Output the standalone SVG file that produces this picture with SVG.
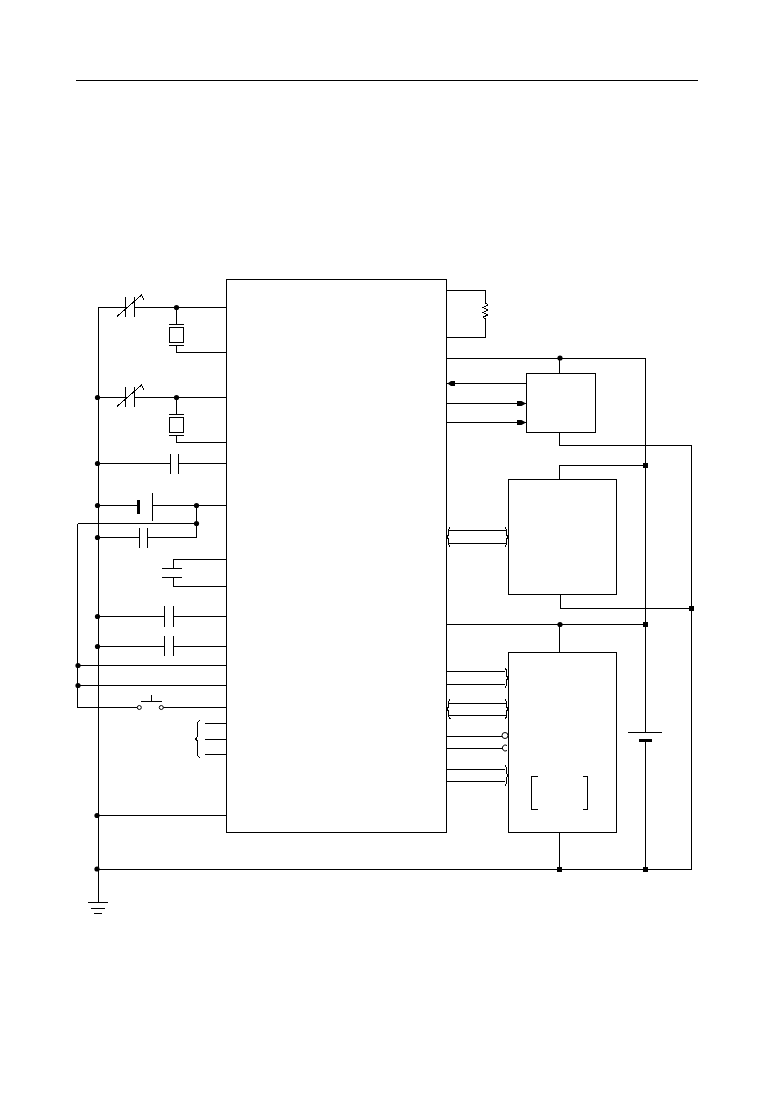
<svg xmlns="http://www.w3.org/2000/svg" width="774" height="1093" viewBox="0 0 774 1093">
<style>
.w{fill:none;stroke:#000;stroke-width:1;shape-rendering:crispEdges}
.t{fill:none;stroke:#000;stroke-width:1;shape-rendering:crispEdges}
.box{fill:#fff;stroke:#000;stroke-width:1;shape-rendering:crispEdges}
.k{fill:#000;stroke:none}
.o{fill:#fff;stroke:#000;stroke-width:1}
</style>
<defs>
<g id="dot"><circle r="2.600" class="k"/></g>
<g id="sq"><rect x="-2" y="-2" width="5" height="5" class="k"/></g>
<g id="var"><path class="w" d="M0 -10V10M9 -10V10"/><path class="t" d="M-8.500 9.500L16 -12L18.500 -7.500"/></g>
<g id="xtal"><path class="w" d="M-7.500 0H7.500M-7.500 21H7.500"/><rect class="w" x="-7" y="3" width="14" height="15"/></g>
</defs>
<g id="connectors">
<path class="w" d="M76 80.500H698"/>
<path class="w" d="M226 307.500H98.500V902.500"/>
<path class="w" d="M98 397.500H226M98 463.500H226M98 505.500H226M98 537.500H196.500V505.500M77.500 523.500H196.500M77.500 523.500V707.500H226M77 665.500H226M77 685.500H226M98 616.500H226M98 646.500H226M98 815.500H226"/>
<path class="w" d="M226 307.500H176.500V324M176.500 345V352.500H226M176.500 397.500V414M176.500 435V442.500H226"/>
<path class="w" d="M226 559.500H173.500V568M173.500 577V586.500H226"/>
<path class="w" d="M205 723.500H226M205 739.500H226M205 754.500H226"/>
<path class="w" d="M98 869.500H691.500V445.500H559.500V432M559.500 373V358M446 358.500H645.500V732M645.500 741V869.500M559.500 480V465.500H645.500M560.500 594V608.500H691.500M446 624.500H645.500M559.500 624.500V652M559.500 832V869"/>
<path class="w" d="M446 290.500H485.500V303M485.500 319V337.500H446"/>
<path class="t" d="M485.500 303L488 305L483 307.500L488 310L483 312.500L488 315L483 317L485.500 319"/>
<path class="w" d="M446 383.500H526M446 403.500H526M446 422.500H526"/>
<path class="w" d="M449 530.500H506M449 543.500H506M446 671.500H505M446 684.500H505M449 703.500H506M449 715.500H506M446 736.500H503M446 748.500H503M446 769.500H505M446 781.500H505"/>
</g>
<g id="arrowheads">
<path class="k" d="M447.500 383.500L451 381H455V386H451Z"/>
<path class="k" d="M526 403.500L521.500 401H517V406H521.500Z"/>
<path class="k" d="M526 422.500L521.500 420H517V425H521.500Z"/>
<path class="t" d="M450.500 527.500Q448.500 528 448.500 532Q448.500 535 447.500 537Q448.500 539 448.500 542Q448.500 546 450.500 546.500"/>
<path class="t" d="M505 527.500Q506.500 528 506.500 532Q506.500 535 507.500 537Q506.500 539 506.500 542Q506.500 546 505 546.500"/>
<path class="t" d="M505 668Q506.500 669 506.500 673Q506.500 676 507.500 678Q506.500 680 506.500 683Q506.500 687 505 687.500"/>
<path class="t" d="M450.500 699.500Q448.500 700 448.500 704Q448.500 707 447.500 709Q448.500 711 448.500 714Q448.500 718 450.500 719"/>
<path class="t" d="M505 699.500Q506.500 700 506.500 704Q506.500 707 507.500 709Q506.500 711 506.500 714Q506.500 718 505 719"/>
<path class="t" d="M505 765.500Q506.500 766 506.500 770Q506.500 773 507.500 775.500Q506.500 778 506.500 781Q506.500 785 505 785.500"/>
<circle class="o" cx="505" cy="735.500" r="3"/>
<path class="o" d="M507 745.500A3 3 0 1 0 507 750.500"/>
</g>
<g id="main-chip"><rect class="box" x="226.500" y="279.500" width="220" height="552.500"/></g>
<g id="block-top"><rect class="box" x="526.500" y="373.500" width="69" height="59"/></g>
<g id="block-middle"><rect class="box" x="508.500" y="479.500" width="108" height="115"/></g>
<g id="block-bottom"><rect class="box" x="508.500" y="652.500" width="108" height="180"/>
<path class="w" d="M537.500 776.500H531.500V809.500H537.500M582.500 776.500H587.500V809.500H582.500"/></g>
<g id="trimmer-1"><rect x="126" y="297" width="8" height="20" fill="#fff"/><use href="#var" x="125.500" y="307"/></g>
<g id="trimmer-2"><rect x="126" y="387" width="8" height="20" fill="#fff"/><use href="#var" x="125.500" y="397"/></g>
<g id="crystal-1"><use href="#xtal" x="176.500" y="324.500"/></g>
<g id="crystal-2"><use href="#xtal" x="176.500" y="414.500"/></g>
<g id="cap-1"><rect x="171" y="454" width="8" height="20" fill="#fff"/><path class="w" d="M170.500 454V474M178.500 454V474"/></g>
<g id="battery-small"><rect x="138" y="494" width="14" height="26" fill="#fff"/><rect class="k" x="137" y="500" width="3" height="14"/><path class="w" d="M152.500 493V521"/></g>
<g id="cap-2"><rect x="140" y="528" width="8" height="20" fill="#fff"/><path class="w" d="M139.500 528V548M147.500 528V548"/></g>
<g id="cap-3"><path class="w" d="M162 568.500H182M162 577.500H182"/></g>
<g id="cap-4"><rect x="165" y="606" width="9" height="21" fill="#fff"/><path class="w" d="M164.500 606V627M173.500 606V627"/></g>
<g id="cap-5"><rect x="165" y="636" width="9" height="20" fill="#fff"/><path class="w" d="M164.500 636V656M173.500 636V656"/></g>
<g id="switch"><rect x="141" y="704" width="19" height="7" fill="#fff"/><circle class="o" cx="139.300" cy="707.500" r="2"/><circle class="o" cx="161.300" cy="707.500" r="2"/><path class="w" d="M141 701.500H162M151.500 695V701"/></g>
<g id="brace"><path class="t" d="M200 720.500Q197.500 721 197.500 725V735Q197.500 738.500 195 739Q197.500 739.500 197.500 743V753Q197.500 757 200 757.500"/></g>
<g id="battery"><rect x="630" y="733" width="30" height="7" fill="#fff"/><path class="w" d="M628 732.500H662"/><rect class="k" x="639" y="739" width="13" height="3"/></g>
<g id="ground"><path class="w" d="M88 902.500H108M91 908.500H105M94 913.500H102"/></g>
<g id="junctions">
<use href="#dot" x="176.500" y="307.500"/><use href="#dot" x="176.500" y="397.500"/>
<use href="#dot" x="97.500" y="397.500"/><use href="#dot" x="97.500" y="463.500"/><use href="#dot" x="97.500" y="505.500"/><use href="#dot" x="97.500" y="537.500"/>
<use href="#dot" x="196.500" y="505.500"/><use href="#dot" x="196.500" y="523.500"/>
<use href="#dot" x="97.500" y="616.500"/><use href="#dot" x="97.500" y="646.500"/>
<use href="#dot" x="78" y="665.500"/><use href="#dot" x="78" y="685.500"/>
<use href="#dot" x="97" y="815.500"/><use href="#dot" x="97" y="869"/>
<use href="#dot" x="560" y="358"/><use href="#sq" x="645" y="465"/><use href="#sq" x="691" y="608"/>
<use href="#dot" x="560" y="624.500"/><use href="#sq" x="645" y="624"/>
<use href="#sq" x="559" y="869"/><use href="#sq" x="645" y="869"/>
</g>
</svg>
